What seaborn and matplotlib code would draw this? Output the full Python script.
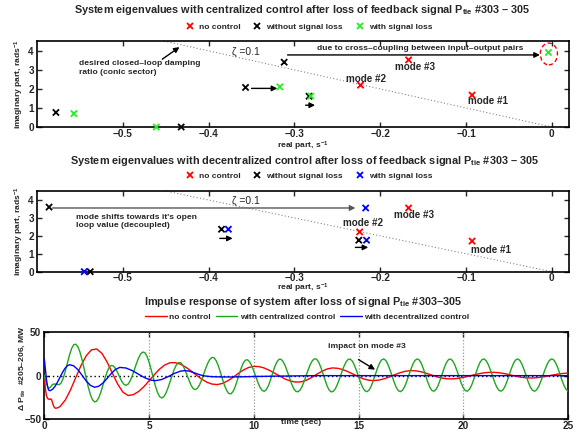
import numpy as np
import pandas as pd
import matplotlib
matplotlib.use("Agg")
import matplotlib.pyplot as plt
import seaborn as sns
from matplotlib.patches import Ellipse

# ---------------- data ----------------
cases = ["no control", "without signal loss", "with signal loss"]

# centralized control eigenvalues (real part, imaginary part)
cen_nc_re = [-0.093, -0.223, -0.167]
cen_nc_im = [1.67, 2.19, 3.51]
cen_wo_re = [-0.578, -0.432, -0.357, -0.312, -0.283]
cen_wo_im = [0.76, 0.0, 2.07, 3.39, 1.61]
cen_w_re = [-0.557, -0.461, -0.317, -0.281, -0.004]
cen_w_im = [0.70, 0.0, 2.10, 1.62, 3.90]

# decentralized control eigenvalues
dec_nc_re = [-0.093, -0.224, -0.167]
dec_nc_im = [1.70, 2.21, 3.54]
dec_wo_re = [-0.586, -0.538, -0.385, -0.225]
dec_wo_im = [3.59, 0.0, 2.36, 1.75]
dec_w_re = [-0.545, -0.377, -0.216, -0.217]
dec_w_im = [0.0, 2.36, 1.75, 3.54]

# zeta = 0.1 damping boundary
zeta_re = [-0.452, 0.0]
zeta_im = [4.5, 0.0]

mode_names = ["mode #1", "mode #2", "mode #3"]

# impulse responses
series_names = ["no control", "with centralized control", "with decentralized control"]

red_t = ([0, 0.05, 0.1, 0.15, 0.2, 0.25, 0.3, 0.35, 0.4, 0.45, 0.5, 0.55, 0.6, 0.65]
         + list(np.round(np.arange(0.75, 25.001, 0.25), 2)))
red_v = [0, -15, -23, -26, -27, -27.5, -26.8, -28, -32, -35.5, -37.2, -37.6, -37.3, -37.0,
         -35.6, -28.2, -16.4, -2.3, 11.6,
         22.9, 29.7, 30.8, 25.7,
         15.6, 2.8, -9.7, -19.0,
         -22.9, -21.9, -18.3, -12.8,
         -6.0, 1.1, 7.5, 12.3,
         14.9, 15.0, 13.2, 9.8,
         5.5, 0.7, -3.8, -7.5,
         -9.7, -10.3, -9.0, -6.1,
         -2.1, 2.4, 6.4, 9.4,
         10.7, 10.4, 8.8, 6.1,
         2.8, -0.7, -3.9, -6.2,
         -7.4, -7.2, -5.4, -2.3,
         1.5, 5.0, 7.7, 8.9,
         8.5, 7.0, 4.5, 1.6,
         -1.3, -3.8, -5.3, -5.7,
         -5.0, -3.4, -1.2, 1.3,
         3.5, 5.1, 5.8, 5.5,
         4.4, 2.6, 0.6, -1.4,
         -2.9, -3.7, -3.7, -3.1,
         -2.0, -0.6, 0.9, 2.2,
         3.3, 3.8, 3.8, 3.2,
         2.2, 0.8, -0.6, -1.8,
         -2.5, -2.7, -2.4, -1.6,
         -0.6, 0.6, 1.7, 2.5,
         3.0]

green_t = list(np.round(np.arange(251) * 0.1, 1))
green_v = [0, -9, -15, -13, -10, -9.6, -10.1, -10.5, -8.6, -3.1,
           5.0, 14.4, 23.6, 31.1, 35.6, 36.3, 33.5, 27.3, 18.5, 8.0,
           -3.0, -13.4, -21.9, -27.8, -30.3, -29.4, -25.3, -18.9, -10.9, -2.7,
           4.5, 9.6, 11.8, 11.1, 8.1, 3.5, -1.8, -6.6, -10.0, -11.2,
           -9.8, -5.9, -0.1, 7.0, 14.1, 20.5, 25.0, 27.2, 26.5, 22.4,
           15.6, 6.9, -2.6, -11.7, -19.2, -24.1, -25.8, -24.4, -20.4, -14.4,
           -7.1, 0.4, 7.2, 12.3, 15.0, 15.1, 12.4, 7.5, 1.3, -5.2,
           -10.9, -14.7, -16.1, -14.8, -11.1, -5.5, 1.2, 8.1, 14.2, 18.7,
           21.0, 20.7, 17.4, 11.8, 4.4, -3.6, -11.1, -16.9, -20.5, -21.1,
           -18.6, -13.5, -6.4, 1.4, 8.8, 14.6, 17.9, 18.3, 16.0, 11.5,
           5.3, -1.5, -8.1, -13.6, -17.1, -18.1, -16.2, -11.5, -4.8, 2.9,
           10.1, 15.7, 18.8, 18.9, 16.2, 11.3, 4.8, -2.3, -9.1, -14.6,
           -17.9, -18.7, -16.9, -12.8, -6.8, 0.0, 7.0, 13.1, 17.4, 19.5,
           18.9, 15.4, 9.6, 2.3, -5.2, -11.9, -16.7, -18.8, -18.0, -14.8,
           -9.5, -3.0, 4.0, 10.5, 15.6, 18.6, 19.1, 16.9, 12.3, 6.0,
           -1.1, -8.0, -13.7, -17.4, -18.5, -16.8, -12.4, -6.1, 1.1, 8.3,
           14.3, 18.1, 19.3, 17.6, 13.2, 6.9, -0.3, -7.5, -13.5, -17.3,
           -18.5, -16.9, -12.7, -6.7, 0.4, 7.5, 13.5, 17.7, 19.3, 18.1,
           14.0, 7.7, 0.3, -7.1, -13.2, -17.0, -18.0, -15.9, -11.3, -4.8,
           2.5, 9.5, 15.2, 18.6, 19.2, 16.9, 12.2, 5.7, -1.5, -8.5,
           -14.0, -17.3, -17.9, -15.6, -10.9, -4.4, 2.8, 9.8, 15.3, 18.6,
           19.2, 17.0, 12.5, 6.3, -0.8, -7.6, -13.3, -16.9, -18.0, -16.3,
           -12.0, -5.8, 1.4, 8.5, 14.3, 18.1, 19.3, 17.6, 13.3, 7.1,
           -0.1, -7.2, -13.0, -16.8, -18.0, -16.5, -12.5, -6.8, 0.0, 6.8,
           12.8, 17.2, 19.2, 18.6, 15.3, 9.8, 2.9, -4.4, -10.9, -15.6,
           -17.9]

blue_t = [0, 0.05, 0.1, 0.15, 0.2, 0.25, 0.3, 0.4, 0.5, 0.6, 0.7, 0.8, 0.9, 1.0, 1.1, 1.2,
          1.4, 1.6, 1.8, 2.0, 2.2, 2.4, 2.6, 2.8, 3.0, 3.2, 3.4, 3.6, 3.9, 4.2, 4.5, 4.8,
          5.1, 5.3, 5.6, 5.9, 6.2, 6.5, 6.7, 6.9, 7.1, 7.3, 7.5, 7.7, 8.0, 8.5, 9.0, 9.5,
          10.0, 11.0, 12.0, 13.0, 25.0]
blue_v = [19, 8, -4, -12, -16.5, -17.3, -17.1, -15.6, -12.7, -8.8, -4.2, 0.6, 5.1, 8.8, 11.4, 12.6,
          11.4, 6.9, 0.5, -6.2, -11.2, -13.4, -12.2, -8.5, -3.1, 2.6, 7.2, 9.5, 8.8, 5.8, 1.6, -2.5,
          -5.2, -5.8, -4.5, -1.3, 2.5, 5.2, 5.8, 5.3, 3.8, 2.0, 0.5, -0.5, -1.2, -1.5, -1.5, -1.3,
          -1.0, -0.6, -0.3, 0.0, 0.0]

# ---------------- style ----------------
sns.set_style("ticks")
plt.rcParams.update({
    "font.family": ["Liberation Sans", "DejaVu Sans"],
    "font.weight": "bold",
    "axes.labelweight": "bold",
    "mathtext.fontset": "custom",
    "mathtext.rm": "Liberation Sans:bold",
    "mathtext.it": "Liberation Sans:bold",
    "mathtext.bf": "Liberation Sans:bold",
    "mathtext.default": "bf",
    "axes.linewidth": 1.2,
    "axes.edgecolor": "black",
    "xtick.direction": "in",
    "ytick.direction": "in",
    "xtick.top": True,
    "ytick.right": True,
    "xtick.major.size": 3.5,
    "ytick.major.size": 3.5,
    "xtick.major.width": 1.0,
    "ytick.major.width": 1.0,
    "xtick.labelsize": 7.2,
    "ytick.labelsize": 7.2,
    "xtick.major.pad": 1.2,
    "ytick.major.pad": 2.2,
})

fig = plt.figure(figsize=(5.84, 4.37), dpi=100)
ax1 = fig.add_axes([0.0634, 0.7094, 0.911, 0.1968])
ax2 = fig.add_axes([0.0634, 0.3783, 0.911, 0.1853])
ax3 = fig.add_axes([0.0759, 0.0412, 0.8967, 0.1984])

FS_ANN = 6.1
FS_MODE = 7.1
FS_TITLE = 7.8
FS_LEG = 6.0
FS_LAB = 6.1


def eig_df(nc_re, nc_im, wo_re, wo_im, w_re, w_im):
    frames = []
    for name, re, im in zip(cases, [nc_re, wo_re, w_re], [nc_im, wo_im, w_im]):
        frames.append(pd.DataFrame({"re": re, "im": im, "case": name}))
    return pd.concat(frames, ignore_index=True)


def arrow(ax, start, end, color="black"):
    ax.annotate("", xy=end, xytext=start,
                arrowprops=dict(arrowstyle="-|>", color=color, lw=1.0,
                                mutation_scale=8, shrinkA=0, shrinkB=0))


def eig_panel(ax, df, pal, legend_y):
    ax.plot(zeta_re, zeta_im, ls=(0, (1, 2)), color="#888888", lw=0.8, zorder=1)
    sns.scatterplot(data=df, x="re", y="im", hue="case", hue_order=cases, palette=pal,
                    marker="x", s=20, linewidth=1.3, ax=ax, clip_on=False, zorder=3)
    ax.set_xlim(-0.6, 0.02)
    ax.set_ylim(0, 4.5)
    ax.set_xticks([-0.5, -0.4, -0.3, -0.2, -0.1, 0])
    ax.set_xticklabels(["\u22120.5", "\u22120.4", "\u22120.3", "\u22120.2", "\u22120.1", "0"])
    ax.set_yticks([0, 1, 2, 3, 4])
    ax.set_xlabel("real part, s$^{-1}$", fontsize=FS_LAB)
    ax.set_ylabel("imaginary part, rads$^{-1}$", fontsize=FS_LAB)
    ax.yaxis.set_label_coords(-0.033, 0.5)
    ax.yaxis.label.set_va("center")
    ax.xaxis.label.set_va("center")
    ax.text(-0.373, 3.94, "\u03b6 =0.1", fontsize=7.5, fontweight="normal",
            ha="left", va="center")
    sns.move_legend(ax, "center", bbox_to_anchor=(0.529, legend_y),
                    bbox_transform=fig.transFigure, ncol=3, frameon=False, title=None,
                    fontsize=FS_LEG, handletextpad=0.6, columnspacing=1.5,
                    handlelength=1.0, markerscale=1.0)
    for s in ax.spines.values():
        s.set_linewidth(1.2)


# ---------- panel 1 ----------
df1 = eig_df(cen_nc_re, cen_nc_im, cen_wo_re, cen_wo_im, cen_w_re, cen_w_im)
eig_panel(ax1, df1, ["red", "black", "#22ee22"], 0.938)
ax1.xaxis.set_label_coords(0.5, -0.225)
fig.text(0.517, 0.976, "System eigenvalues with centralized control after loss of feedback signal P$_{tie}$ #303 \u2013 305",
         ha="center", va="center", fontsize=FS_TITLE, fontweight="bold")
ax1.text(-0.160, 3.16, mode_names[2], fontsize=FS_MODE, ha="center", va="center")
ax1.text(-0.217, 2.49, mode_names[1], fontsize=FS_MODE, ha="center", va="center")
ax1.text(-0.074, 1.35, mode_names[0], fontsize=FS_MODE, ha="center", va="center")
ax1.text(-0.551, 3.09, "desired closed\u2013loop damping\nratio (conic sector)", fontsize=FS_ANN,
         ha="left", va="center", linespacing=1.25)
arrow(ax1, (-0.454, 3.55), (-0.434, 4.18))
ax1.text(-0.153, 4.12, "due to cross\u2013coupling between input\u2013output pairs", fontsize=FS_ANN,
         ha="center", va="center")
arrow(ax1, (-0.308, 3.77), (-0.014, 3.77))
arrow(ax1, (-0.350, 2.02), (-0.320, 2.02))
arrow(ax1, (-0.287, 1.14), (-0.276, 1.14))
ax1.add_patch(Ellipse((-0.0035, 3.82), width=0.020, height=1.14, fill=False,
                      edgecolor="red", ls=(0, (3, 2)), lw=1.0, clip_on=False))

# ---------- panel 2 ----------
df2 = eig_df(dec_nc_re, dec_nc_im, dec_wo_re, dec_wo_im, dec_w_re, dec_w_im)
eig_panel(ax2, df2, ["red", "black", "blue"], 0.597)
ax2.xaxis.set_label_coords(0.5, -0.21)
fig.text(0.522, 0.632, "System eigenvalues with decentralized control after loss of feedback signal P$_{tie}$ #303 \u2013 305",
         ha="center", va="center", fontsize=FS_TITLE, fontweight="bold")
ax2.text(-0.161, 3.17, mode_names[2], fontsize=FS_MODE, ha="center", va="center")
ax2.text(-0.220, 2.73, mode_names[1], fontsize=FS_MODE, ha="center", va="center")
ax2.text(-0.071, 1.20, mode_names[0], fontsize=FS_MODE, ha="center", va="center")
ax2.text(-0.555, 2.80, "mode shifts towards it's open\nloop value (decoupled)", fontsize=FS_ANN,
         ha="left", va="center", linespacing=1.25)
arrow(ax2, (-0.582, 3.54), (-0.229, 3.54), color="#555555")
arrow(ax2, (-0.387, 1.85), (-0.372, 1.85))
arrow(ax2, (-0.229, 1.35), (-0.214, 1.35))

# ---------- panel 3 ----------
df3 = pd.concat([
    pd.DataFrame({"t": red_t, "v": red_v, "series": series_names[0]}),
    pd.DataFrame({"t": green_t, "v": green_v, "series": series_names[1]}),
    pd.DataFrame({"t": blue_t, "v": blue_v, "series": series_names[2]}),
], ignore_index=True)
ax3.axhline(0, color="black", ls=(0, (1, 2)), lw=1.0, zorder=1)
for xv in [5, 10, 15, 20]:
    ax3.axvline(xv, color="#999999", ls=(0, (1, 1.5)), lw=0.9, zorder=1)
sns.lineplot(data=df3, x="t", y="v", hue="series", hue_order=series_names,
             palette=["red", "#1fa61f", "blue"], estimator=None, sort=False,
             lw=1.0, ax=ax3, zorder=3)
ax3.set_xlim(0, 25)
ax3.set_ylim(-50, 50)
ax3.set_xticks([0, 5, 10, 15, 20, 25])
ax3.set_yticks([-50, 0, 50])
ax3.set_yticklabels(["\u221250", "0", "50"])
ax3.set_xlabel("time (sec)", fontsize=FS_LAB)
ax3.xaxis.set_label_coords(0.49, -0.045)
ax3.xaxis.label.set_va("center")
ax3.set_ylabel("\u0394 P$_{tie}$  #205\u2013206, MW", fontsize=FS_LAB)
ax3.yaxis.set_label_coords(-0.043, 0.59)
ax3.yaxis.label.set_va("center")
ax3.text(15.38, 33.9, "impact on mode #3", fontsize=FS_ANN, ha="center", va="center")
arrow(ax3, (15.0, 18.5), (15.79, 6.9))
sns.move_legend(ax3, "center", bbox_to_anchor=(0.526, 0.274),
                bbox_transform=fig.transFigure, ncol=3, frameon=False, title=None,
                fontsize=FS_LEG, handletextpad=0.3, columnspacing=0.6, handlelength=2.6)
fig.text(0.519, 0.309, "Impulse response of system after loss of signal P$_{tie}$ #303\u2013305",
         ha="center", va="center", fontsize=FS_TITLE, fontweight="bold")
for s in ax3.spines.values():
    s.set_linewidth(1.2)

fig.savefig("out.png", dpi=100)
